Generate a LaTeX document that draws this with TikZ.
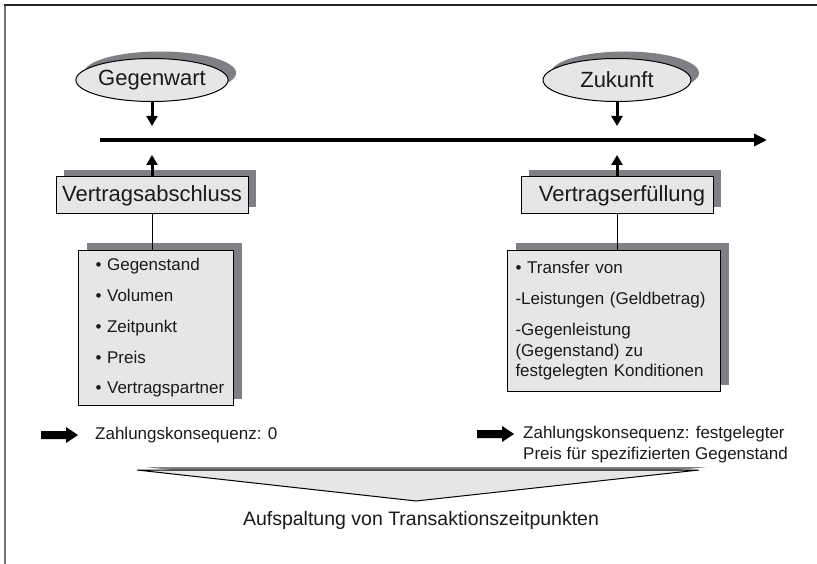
\documentclass[tikz,border=0pt]{standalone}
\usepackage{fontspec}
\setmainfont{Liberation Sans}
\usetikzlibrary{arrows.meta,shapes.geometric,shadows}
\definecolor{fillgray}{HTML}{E6E6E6}
\definecolor{shadowgray}{HTML}{7F7F84}
\definecolor{txt}{HTML}{1A1A1A}
\tikzset{
  shd/.style={drop shadow={shadow xshift=8pt,shadow yshift=7pt,fill=shadowgray,opacity=1}},
  ell/.style={ellipse, draw=black, line width=1pt, fill=fillgray, minimum width=148pt,
    minimum height=43pt, inner sep=0pt, text=txt, font=\fontsize{22}{26}\selectfont, shd},
  titlebox/.style={rectangle, draw=black, line width=1pt, fill=fillgray, minimum width=192pt,
    minimum height=37pt, inner sep=0pt, text=txt, font=\fontsize{22}{26}\selectfont, shd},
  listbox/.style={rectangle, draw=black, line width=1pt, fill=fillgray, anchor=north west,
    align=left, text=txt, font=\fontsize{17}{20.5}\selectfont, inner ysep=0pt, shd},
  varrow/.style={line width=3pt, -{Triangle[length=10pt,width=11pt]}},
  conn/.style={line width=1pt},
  plain/.style={text=txt, inner sep=0pt, font=\fontsize{17}{20.5}\selectfont, align=left},
}
\begin{document}
\begin{tikzpicture}[x=1pt,y=-1pt]
\useasboundingbox (0,0) rectangle (817,564);
% frame
\draw[line width=2pt, black!55] (5,564) -- (5,5);
\draw[line width=1.5pt, black!85] (4,5) -- (817,5);

% ellipses
\node[ell] (gw) at (152,80) {Gegenwart};
\node[ell] (zk) at (617,80) {Zukunft};

% timeline
\coordinate (tl0) at (100,140);
\coordinate (tl1) at (767,140);
\draw[line width=4pt, -{Triangle[length=13pt,width=12pt]}] (tl0) -- (tl1);

\coordinate (gwtip) at (152,126);
\coordinate (zktip) at (617,126);
\draw[varrow] (gw.south) -- (gwtip);
\draw[varrow] (zk.south) -- (zktip);

% title boxes
\node[titlebox] (va) at (152,195.5) {Vertragsabschluss};
\node[titlebox] (ve) at (617,195.5) {\hspace*{10pt}Vertragserfüllung};
\coordinate (vatip) at (152,155);
\coordinate (vetip) at (617,155);
\draw[varrow] (va.north) -- (vatip);
\draw[varrow] (ve.north) -- (vetip);

% list boxes
\node[listbox, minimum width=155pt, minimum height=155pt, text width=146pt, inner xsep=4.5pt] (l1) at (78,250)
  {\hspace*{12.5pt}• Gegenstand\\[10.3pt] \hspace*{12.5pt}• Volumen\\[10.3pt] \hspace*{12.5pt}• Zeitpunkt\\[10.3pt] \hspace*{12.5pt}• Preis\\[10.3pt] \hspace*{12.5pt}• Vertragspartner};
\node[listbox, minimum width=213pt, minimum height=141pt, text width=197pt, inner xsep=8pt] (l2) at (507,250)
  {• Transfer von\\[10.5pt] -Leistungen (Geldbetrag)\\[10.5pt] -Gegenleistung\\ (Gegenstand) zu\\ festgelegten Konditionen};
\draw[conn] (va.south) -- (va.south |- l1.north);
\draw[conn] (ve.south) -- (ve.south |- l2.north);

% block arrows
\fill[black] (41,431) -- (66,431) -- (66,427) -- (78,435) -- (66,443) -- (66,439) -- (41,439) -- cycle;
\fill[black] (477,430) -- (502,430) -- (502,426) -- (514,434) -- (502,442) -- (502,438) -- (477,438) -- cycle;
\node[plain, anchor=west] (z1) at (95,435) {Zahlungskonsequenz: 0};
\node[plain, anchor=west] (z2) at (523,444.5) {Zahlungskonsequenz: festgelegter\\Preis für spezifizierten Gegenstand};

% chevron
\fill[shadowgray] (145,467) -- (707,467) -- (424,498) -- cycle;
\draw[line width=1pt, fill=fillgray] (137,470) -- (699,470) -- (416,501) -- cycle;
\node[plain, font=\fontsize{19.5}{23}\selectfont] (auf) at (421,520) {Aufspaltung von Transaktionszeitpunkten};
\end{tikzpicture}
\end{document}
